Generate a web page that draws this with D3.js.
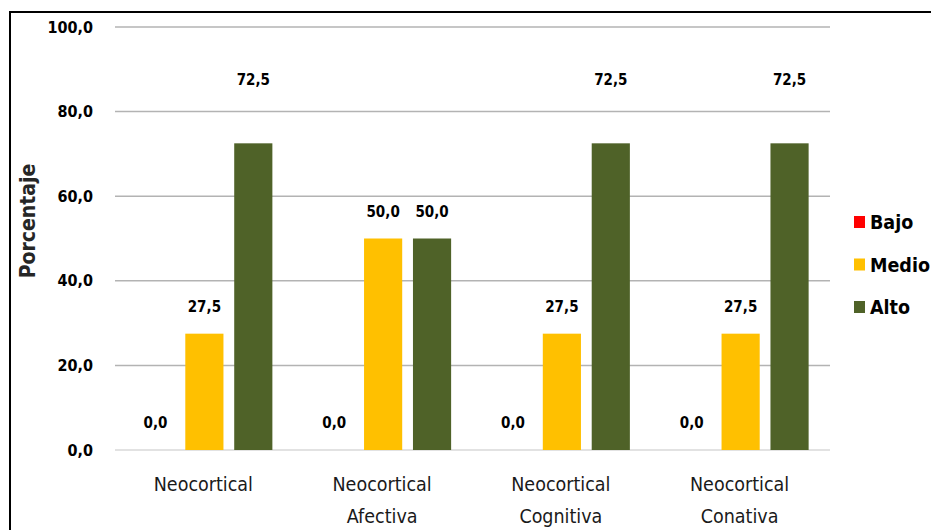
<!DOCTYPE html>
<html><head><meta charset="utf-8">
<script src="https://cdn.jsdelivr.net/npm/d3@7"></script>
<style>body{margin:0;background:#fff}svg{display:block}text{font-family:"Liberation Sans Narrow","Arial Narrow","DejaVu Sans Condensed",sans-serif}</style>
</head><body><svg id="c" width="931" height="530"></svg>
<script>
const categories = [["Neocortical"],["Neocortical","Afectiva"],["Neocortical","Cognitiva"],["Neocortical","Conativa"]];
const seriesNames = ["Bajo","Medio","Alto"];
const bajo = [0.0, 0.0, 0.0, 0.0];
const medio = [27.5, 50.0, 27.5, 27.5];
const alto = [72.5, 50.0, 72.5, 72.5];
const yTicks = [0, 20, 40, 60, 80, 100];
const colors = ["#ff0000","#ffc000","#4f6228"];
const fmt = v => v.toFixed(1).replace(".", ",");

const svg = d3.select("#c");
const x0 = d3.scaleBand().domain(d3.range(categories.length)).range([115, 830]);
const x1 = d3.scaleBand().domain(d3.range(3)).range([0, 136]).paddingInner(0.22);
const y = d3.scaleLinear().domain([0, 100]).range([450, 27]);

// border
svg.append("line").attr("x1",10).attr("x2",931).attr("y1",12).attr("y2",12).attr("stroke","#000").attr("stroke-width",2);
svg.append("line").attr("x1",10).attr("x2",10).attr("y1",11).attr("y2",530).attr("stroke","#000").attr("stroke-width",2);

// gridlines
svg.append("g").selectAll("line").data(yTicks).join("line")
  .attr("x1",115).attr("x2",830).attr("y1",d=>y(d)).attr("y2",d=>y(d))
  .attr("stroke",d=>d===0?"#d9d9d9":"#b3b3b3").attr("stroke-width",1.5);

// y axis labels
const yAxis = d3.axisLeft(y).tickValues(yTicks).tickFormat(fmt).tickSize(0).tickPadding(0);
const ga = svg.append("g").attr("transform","translate(93,0)").call(yAxis);
ga.select(".domain").remove();
ga.selectAll("text").attr("font-size",16).attr("font-weight","bold").attr("fill","#000").attr("font-family",null);

// y title
svg.append("text").attr("transform","translate(35,221) rotate(-90)").attr("text-anchor","middle")
  .attr("font-size",21).attr("font-weight","bold").attr("fill","#262626").text("Porcentaje");

const series = [bajo, medio, alto];
const labelOffset = v => v > 60 ? 63 : 27;
series.forEach((vals, s) => {
  const g = svg.append("g");
  g.selectAll("rect").data(vals).join("rect")
    .attr("x",(d,i)=>x0(i)+x0.bandwidth()/2-68+x1(s)).attr("width",x1.bandwidth())
    .attr("y",d=>y(d)).attr("height",d=>y(0)-y(d)).attr("fill",colors[s]);
  g.selectAll("text").data(vals).join("text")
    .attr("x",(d,i)=>x0(i)+x0.bandwidth()/2-68+x1(s)+x1.bandwidth()/2)
    .attr("y",d=>y(d)-labelOffset(d)+5).attr("text-anchor","middle")
    .attr("font-size",15).attr("font-weight","bold").attr("fill","#000").text(fmt);
});

// category labels
categories.forEach((lines,i)=>{
  const t = svg.append("text").attr("text-anchor","middle").attr("font-size",19.5).attr("fill","#1a1a1a");
  lines.forEach((l,k)=>t.append("tspan").attr("x",x0(i)+x0.bandwidth()/2-1).attr("y",491+k*32).text(l));
});

// legend
const lg = svg.append("g");
seriesNames.forEach((n,i)=>{
  const yy = 222 + i*42.5;
  lg.append("rect").attr("x",854).attr("y",yy-6).attr("width",11).attr("height",12).attr("fill",colors[i]);
  lg.append("text").attr("x",870).attr("y",yy+7).attr("font-size",19.5).attr("font-weight","bold").attr("fill","#000").text(n);
});
</script></body></html>
